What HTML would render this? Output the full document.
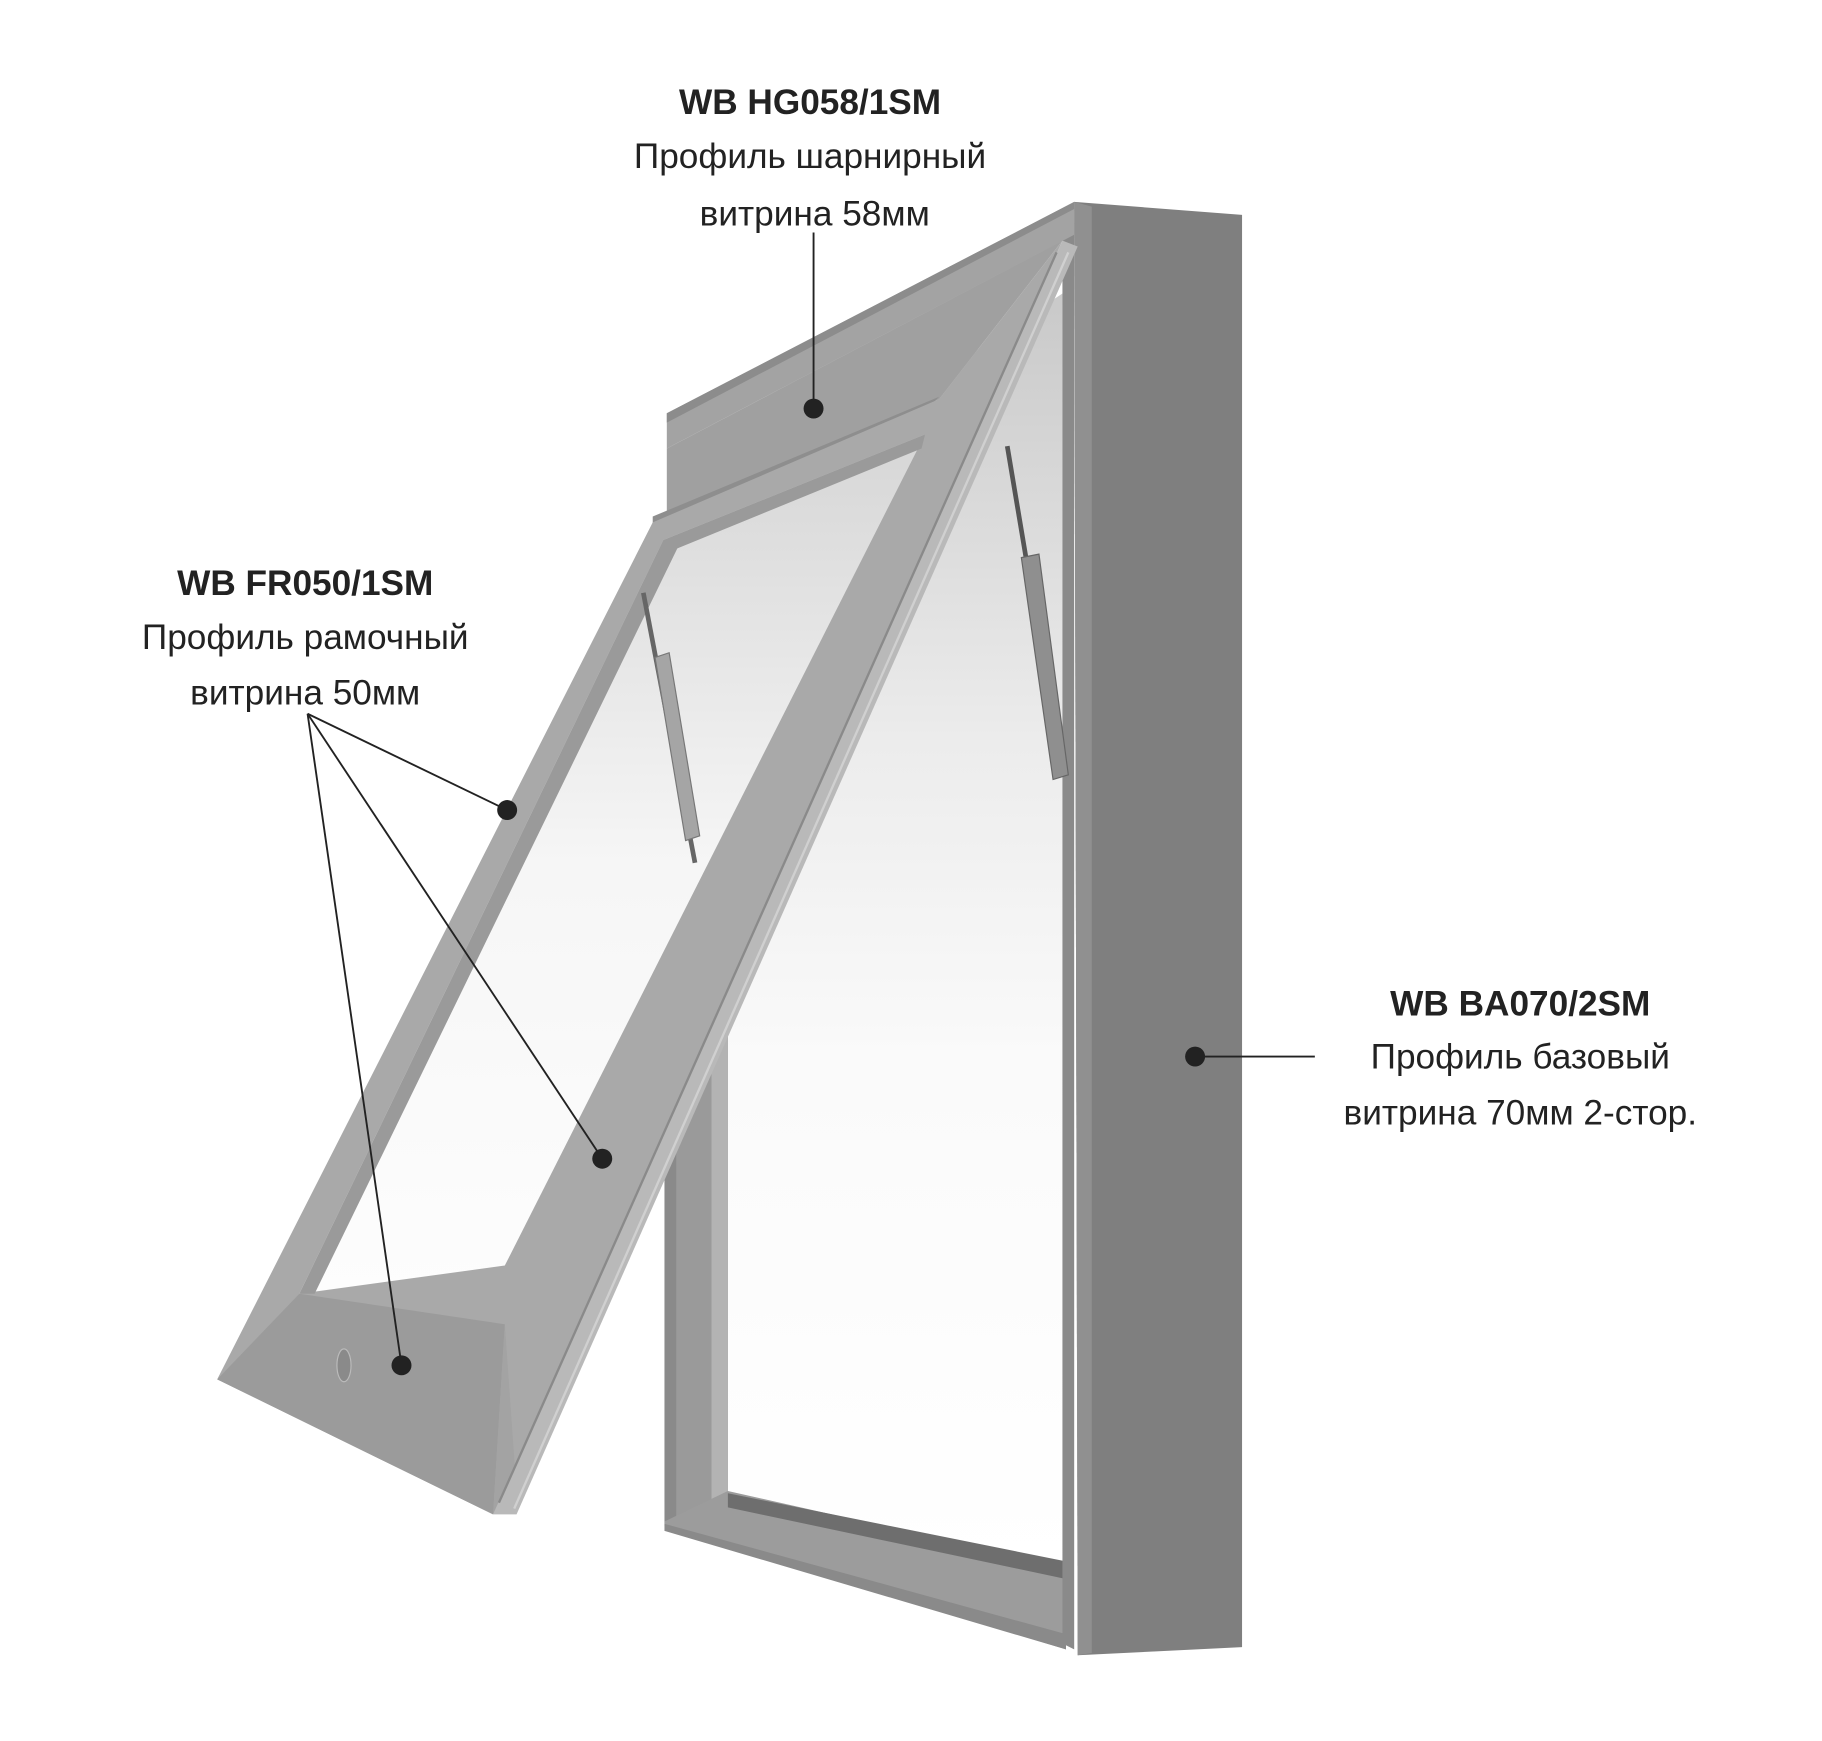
<!DOCTYPE html>
<html><head><meta charset="utf-8"><style>
html,body{margin:0;padding:0;background:#fff;}
svg{display:block;}
text{font-family:"Liberation Sans","DejaVu Sans",sans-serif;fill:#222;}
</style></head><body>
<svg width="1822" height="1741" viewBox="0 0 1552 1483" preserveAspectRatio="none" xmlns="http://www.w3.org/2000/svg">
<defs>
<linearGradient id="gl" x1="0" y1="0" x2="0" y2="1">
<stop offset="0" stop-color="#c9c9c9"/><stop offset="0.35" stop-color="#ececec"/><stop offset="0.6" stop-color="#fafafa"/><stop offset="1" stop-color="#ffffff"/>
</linearGradient>
<linearGradient id="gl2" x1="0" y1="0" x2="0" y2="1">
<stop offset="0" stop-color="#d6d6d6"/><stop offset="0.5" stop-color="#f6f6f6"/><stop offset="1" stop-color="#fdfdfd"/>
</linearGradient>
</defs>
<!-- back glass -->
<polygon points="620,440 905,250 905,1335 620,1270" fill="url(#gl)"/>
<!-- back frame left post -->
<polygon points="566,455 620,440 620,1280 566,1298" fill="#8a8a8a"/>
<polygon points="576,455 606,448 606,1285 576,1293" fill="#9a9a9a"/>
<polygon points="606,448 620,444 620,1282 606,1285" fill="#b3b3b3"/>
<!-- back frame bottom bar -->
<polygon points="566,1296 620,1270 908,1335 908,1405 566,1300" fill="#9c9c9c"/>
<polygon points="566,1298 908,1392 908,1405 566,1304" fill="#8a8a8a"/>
<polygon points="620,1272 908,1330 908,1345 620,1284" fill="#6e6e6e"/>
<!-- right post front -->
<polygon points="915,172 1058,183 1058,1403 918,1410" fill="#7f7f7f"/>
<polygon points="915,172 930,176 930,1408 918,1410" fill="#909090"/>
<polygon points="905,205 915,190 915,1405 905,1400" fill="#8a8a8a"/>
<!-- top frame band -->
<polygon points="568,352 915,172 915,200 568,382" fill="#a3a3a3"/>
<polygon points="568,352 915,172 915,178 568,360" fill="#8c8c8c"/>
<!-- hinge profile -->
<polygon points="568,382 905,205 800,340 568,440" fill="#a0a0a0"/>
<polygon points="556,440 800,338 788,350 556,452" fill="#8e8e8e"/>
<!-- right struts -->
<line x1="858" y1="380" x2="905" y2="660" stroke="#555" stroke-width="4"/>
<polygon points="870,475 885,472 910,660 897,664" fill="#8f8f8f" stroke="#666" stroke-width="1"/>
<!-- sash -->
<polygon points="556,445 800,340 905,205 420,1290 185,1175" fill="#a9a9a9"/>
<!-- sash glass -->
<polygon points="565,460 788,370 430,1078 255,1102" fill="url(#gl2)"/>
<polygon points="565,460 788,370 785,382 570,470" fill="#9a9a9a"/>
<polygon points="565,460 578,465 268,1102 255,1102" fill="#9a9a9a"/>
<!-- left strut -->
<line x1="548" y1="505" x2="592" y2="735" stroke="#666" stroke-width="4"/>
<polygon points="558,560 570,556 596,712 584,716" fill="#a5a5a5" stroke="#777" stroke-width="1"/>
<!-- sash bottom panel -->
<polygon points="255,1102 430,1128 420,1290 185,1175" fill="#9b9b9b"/>
<polygon points="430,1128 440,1270 420,1290" fill="#a3a3a3"/>
<!-- sash right edge strips -->
<polygon points="905,205 918,210 440,1290 420,1290" fill="#b9b9b9"/>
<line x1="900" y1="215" x2="425" y2="1280" stroke="#8a8a8a" stroke-width="2"/>
<line x1="910" y1="215" x2="438" y2="1285" stroke="#d0d0d0" stroke-width="2"/>
<!-- handle -->
<ellipse cx="293" cy="1163" rx="6" ry="14" fill="#8a8a8a" stroke="#bbb"/>
<!-- connectors -->
<g stroke="#222" stroke-width="1.6" fill="none">
<line x1="693" y1="198" x2="693" y2="348"/>
<line x1="262" y1="608" x2="432" y2="690"/>
<line x1="262" y1="608" x2="513" y2="987"/>
<line x1="262" y1="608" x2="342" y2="1163"/>
<line x1="1018" y1="900" x2="1120" y2="900"/>
</g>
<g fill="#222">
<circle cx="693" cy="348" r="8.5"/><circle cx="432" cy="690" r="8.5"/><circle cx="513" cy="987" r="8.5"/><circle cx="342" cy="1163" r="8.5"/><circle cx="1018" cy="900" r="8.5"/>
</g>
<g font-size="30" text-anchor="middle">
<text x="690" y="97" font-weight="bold">WB HG058/1SM</text>
<text x="690" y="143">Профиль шарнирный</text>
<text x="694" y="192">витрина 58мм</text>
<text x="260" y="507" font-weight="bold">WB FR050/1SM</text>
<text x="260" y="553">Профиль рамочный</text>
<text x="260" y="600">витрина 50мм</text>
<text x="1295" y="865" font-weight="bold">WB BA070/2SM</text>
<text x="1295" y="910">Профиль базовый</text>
<text x="1295" y="958">витрина 70мм 2-стор.</text>
</g>
</svg>
</body></html>
